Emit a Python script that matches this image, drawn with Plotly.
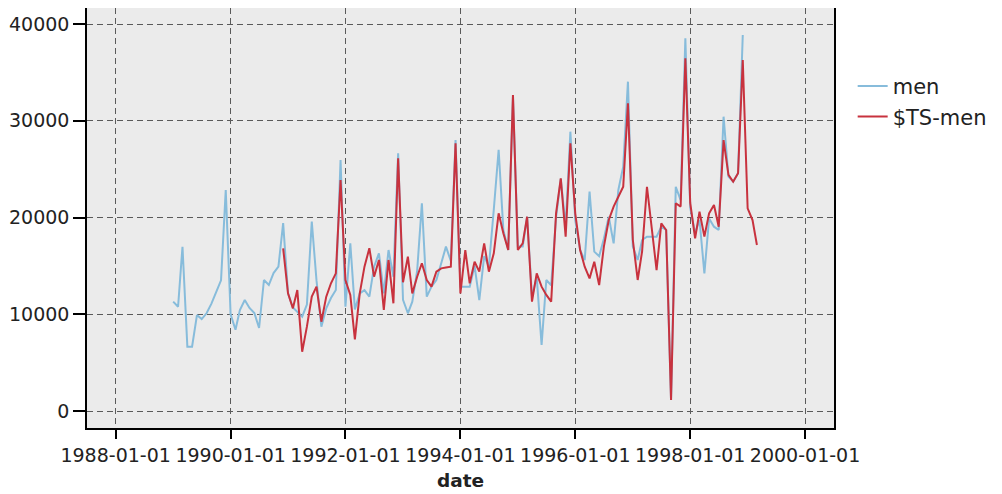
import pandas as pd
import plotly.graph_objects as go

# monthly observed values, Jan 1989 - Dec 1998
men_dates = pd.date_range("1989-01-01", periods=120, freq="MS")
men = [
    11300, 10780, 16980, 6650, 6650, 9920, 9500, 10100, 11100, 12200, 13500, 22840,
    10000, 8400, 10440, 11470, 10650, 10130, 8580, 13540, 13020, 14260, 14920, 19430,
    12160, 10700, 10200, 9750, 11000, 19570, 13500, 8720, 10610, 11680, 12500, 25940,
    10780, 17330, 10500, 12160, 12500, 11820, 14920, 16300, 12160, 16640, 13880, 26630,
    11500, 10100, 11300, 14500, 21470, 11820, 12850, 13540, 15270, 16990, 15500, 28000,
    12850, 12850, 12850, 15000, 11470, 16000, 14920, 20800, 27000, 18710, 16640, 32500,
    17000, 17000, 20080, 11820, 13880, 6820, 13540, 13000, 20000, 24000, 19050, 28870,
    19740, 16640, 15600, 22670, 16470, 16000, 17800, 20080, 17330, 22840, 25250, 34040,
    17000, 15610, 17670, 18020, 18000, 18020, 19050, 18710, 1140, 23180, 21800, 38520,
    21000, 18370, 19740, 14230, 19900, 19050, 18710, 30420, 24220, 23700, 24570, 38860,
]

# model fit + forecast, Dec 1990 - Mar 1999
ts_dates = pd.date_range("1990-12-01", periods=100, freq="MS")
ts_men = [
    16820,
    12160, 10610, 12500, 6130, 8720, 11820, 12850, 9230, 11820, 13200, 14230, 23880,
    13540, 12000, 7400, 12160, 14920, 16820, 13880, 15610, 10440, 15610, 11130, 26120,
    13300, 15950, 12160, 13880, 15270, 13540, 12850, 14400, 14740, 14830, 14920, 27670,
    12160, 16640, 13200, 15430, 14400, 17330, 14400, 16300, 20430, 18370, 16640, 32660,
    16640, 17330, 20080, 11300, 14230, 12850, 12000, 11300, 20430, 24050, 18020, 27670,
    20430, 16640, 14920, 13710, 15430, 13020, 16990, 19740, 21120, 22150, 23180, 31800,
    17700, 13540, 16500, 23180, 19050, 14570, 19400, 18710, 1140, 21470, 21130, 36460,
    21500, 17850, 20600, 18020, 20430, 21300, 19050, 28000, 24400, 23700, 24570, 36280,
    20950, 19740, 17160,
]

FONT = 'DejaVu Sans'

fig = go.Figure()
fig.add_trace(go.Scatter(
    x=men_dates, y=men, mode='lines', name='men',
    line=dict(color='#87bcdb', width=2),
))
fig.add_trace(go.Scatter(
    x=ts_dates, y=ts_men, mode='lines', name='$TS-men',
    line=dict(color='#c8323e', width=2),
))

axis_common = dict(
    showline=True, linecolor='black', linewidth=1.5, mirror=True,
    ticks='outside', tickcolor='black', tickwidth=1.5,
    showgrid=True, gridcolor='#5a5a5a', gridwidth=1, griddash='6px,4px',
    zeroline=False, automargin=False,
    tickfont=dict(family=FONT, size=19, color='#222222'),
)

fig.update_layout(
    width=994, height=486,
    margin=dict(l=79, r=168, t=0, b=66),
    paper_bgcolor='white',
    plot_bgcolor='#ebebeb',
    showlegend=True,
    legend=dict(
        x=1.025, xanchor='left', y=0.862, yanchor='top',
        font=dict(family=FONT, size=21, color='#222222'),
        bgcolor='rgba(0,0,0,0)',
    ),
    xaxis=dict(
        axis_common,
        type='date',
        range=['1987-07-03', '2000-07-03'],
        tick0='1988-01-01', dtick='M24', tickformat='%Y-%m-%d',
        tickangle=0, ticklen=9,
        title=dict(text='<b>date</b>', font=dict(family=FONT, size=18.5, color='#222222'), standoff=10),
    ),
    yaxis=dict(
        axis_common,
        ticklen=12,
        range=[-1757, 41654],
        tickvals=[0, 10000, 20000, 30000, 40000],
        ticktext=['0', '10000', '20000', '30000', '40000'],
    ),
)

fig.write_html("out.html")
